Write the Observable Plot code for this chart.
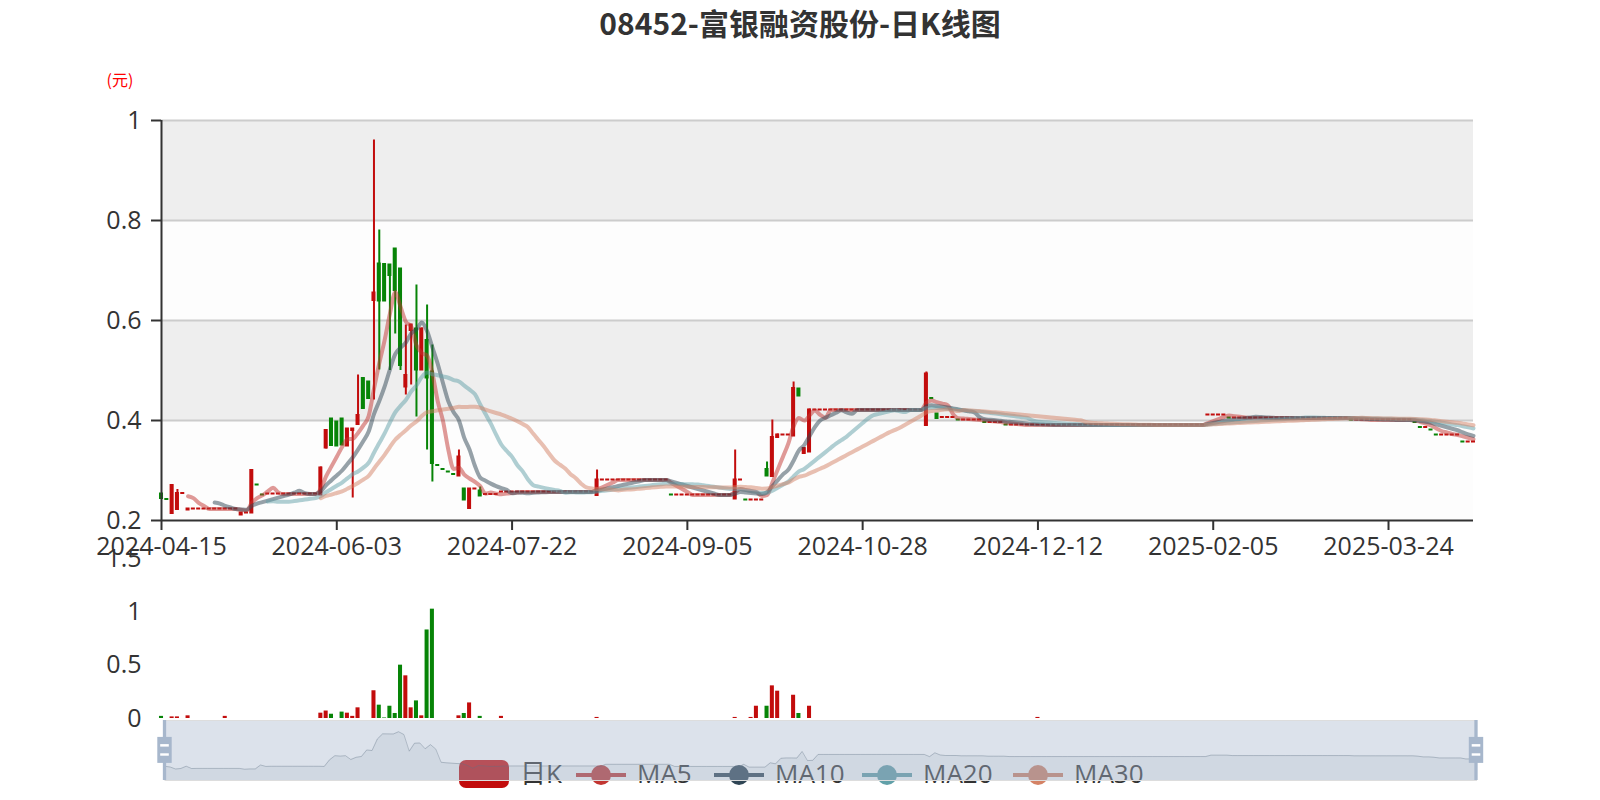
<!DOCTYPE html>
<html><head><meta charset="utf-8">
<script src="https://cdn.jsdelivr.net/npm/d3@7"></script>
<script src="https://cdn.jsdelivr.net/npm/@observablehq/plot@0.6"></script>
<style>
body{margin:0;background:#fff;}
#root{position:relative;width:1600px;height:800px;overflow:hidden;font-family:"Open Sans","Noto Sans CJK SC",sans-serif;}
#root > svg{position:absolute;left:0;top:0;}
#title{position:absolute;left:0;top:0;width:1600px;text-align:center;font-weight:bold;font-size:30px;font-family:"Noto Sans CJK SC",sans-serif;color:#333;line-height:45px;}
#unit{position:absolute;left:90px;top:68px;width:60px;text-align:center;font-size:16px;line-height:22px;color:#f00;font-family:"Noto Sans CJK SC",sans-serif;}
.lgIcon{position:absolute;top:760px;width:50px;height:28px;}
.lgText{position:absolute;top:759px;font-size:26px;line-height:28px;color:#333;font-family:"Open Sans","Noto Sans CJK SC",sans-serif;white-space:nowrap;}
</style></head>
<body><div id="root"><div id="title">08452-富银融资股份-日K线图</div><div id="unit">(元)</div></div>
<script>
// ---- data ----
const xTickLabels = ["2024-04-15","2024-06-03","2024-07-22","2024-09-05","2024-10-28","2024-12-12","2025-02-05","2025-03-24"];
const xTickEvery = 33;
const yTicks = [0.2, 0.4, 0.6, 0.8, 1];
const volTicks = [0, 0.5, 1, 1.5];
const seriesNames = ["日K", "MA5", "MA10", "MA20", "MA30"];
const maDays = [5, 10, 20, 30];

const open = [
.253,.242,.214,.222,.254,.221,.223,.223,.223,.223,
.223,.223,.223,.223,.223,.211,.215,.215,.271,.251,
.253,.253,.253,.253,.253,.253,.253,.253,.253,.253,
.251,.345,.403,.397,.403,.349,.38,.392,.484,.477,
.64,.713,.712,.711,.743,.703,.467,.58,.583,.501,
.56,.497,.31,.302,.297,.292,.289,.263,.224,.263,
.259,.252,.252,.252,.257,.257,.257,.257,.257,.257,
.257,.257,.257,.257,.257,.257,.257,.257,.257,.257,
.257,.257,.25,.281,.281,.281,.281,.281,.281,.281,
.281,.281,.281,.281,.281,.281,.251,.251,.251,.251,
.251,.251,.251,.251,.251,.251,.251,.251,.243,.281,
.241,.241,.241,.241,.302,.288,.366,.371,.371,.369,
.463,.334,.337,.421,.421,.421,.421,.421,.421,.421,
.421,.421,.421,.421,.421,.421,.421,.421,.421,.421,
.421,.421,.421,.421,.39,.444,.413,.406,.406,.406,
.401,.401,.401,.401,.401,.396,.396,.396,.396,.391,
.391,.391,.391,.391,.391,.391,.391,.391,.391,.391,
.391,.391,.391,.391,.391,.391,.391,.391,.391,.391,
.391,.391,.391,.391,.391,.391,.391,.391,.391,.391,
.391,.391,.391,.391,.391,.391,.391,.411,.411,.411,
.411,.405,.405,.405,.405,.405,.405,.405,.405,.405,
.405,.405,.405,.405,.405,.405,.405,.405,.405,.405,
.405,.405,.405,.405,.401,.401,.401,.401,.401,.401,
.401,.401,.401,.401,.401,.401,.396,.386,.386,.381,
.371,.371,.371,.371,.371,.357,.357,.357];
const close = [
.244,.242,.27,.254,.254,.223,.223,.223,.223,.223,
.223,.223,.223,.223,.223,.215,.215,.3,.271,.251,
.253,.253,.253,.253,.253,.253,.253,.253,.253,.253,
.305,.38,.35,.349,.351,.383,.383,.41,.424,.444,
.655,.639,.639,.69,.66,.51,.49,.591,.501,.583,
.485,.314,.31,.302,.297,.292,.327,.241,.263,.263,
.249,.252,.252,.252,.257,.257,.257,.257,.257,.257,
.257,.257,.257,.257,.257,.257,.257,.257,.257,.257,
.257,.257,.281,.281,.281,.281,.281,.281,.281,.281,
.281,.281,.281,.281,.281,.281,.251,.251,.251,.251,
.251,.251,.251,.251,.251,.251,.251,.251,.281,.281,
.241,.241,.241,.241,.289,.366,.371,.371,.371,.464,
.449,.344,.421,.421,.421,.421,.421,.421,.421,.421,
.421,.421,.421,.421,.421,.421,.421,.421,.421,.421,
.421,.421,.421,.421,.493,.444,.404,.406,.406,.406,
.401,.401,.401,.401,.401,.396,.396,.396,.396,.391,
.391,.391,.391,.391,.391,.391,.391,.391,.391,.391,
.391,.391,.391,.391,.391,.391,.391,.391,.391,.391,
.391,.391,.391,.391,.391,.391,.391,.391,.391,.391,
.391,.391,.391,.391,.391,.391,.391,.411,.411,.411,
.411,.405,.405,.405,.405,.405,.405,.405,.405,.405,
.405,.405,.405,.405,.405,.405,.405,.405,.405,.405,
.405,.405,.405,.405,.401,.401,.401,.401,.401,.401,
.401,.401,.401,.401,.401,.401,.396,.386,.386,.381,
.371,.371,.371,.371,.371,.357,.357,.357];
const low = [
.244,.242,.212,.221,.254,.221,.223,.223,.223,.223,
.223,.223,.223,.223,.223,.211,.215,.215,.271,.251,
.253,.253,.253,.253,.253,.253,.253,.253,.253,.253,
.25,.343,.35,.349,.351,.349,.245,.39,.424,.444,
.441,.501,.638,.5,.573,.5,.451,.471,.407,.5,
.341,.277,.31,.302,.297,.292,.289,.241,.222,.263,
.249,.252,.252,.252,.257,.257,.257,.257,.257,.257,
.257,.257,.257,.257,.257,.257,.257,.257,.257,.257,
.257,.257,.249,.281,.281,.281,.281,.281,.281,.281,
.281,.281,.281,.281,.281,.281,.251,.251,.251,.251,
.251,.251,.251,.251,.251,.251,.251,.251,.243,.281,
.241,.241,.241,.241,.289,.286,.366,.371,.371,.369,
.449,.334,.337,.421,.421,.421,.421,.421,.421,.421,
.421,.421,.421,.421,.421,.421,.421,.421,.421,.421,
.421,.421,.421,.421,.389,.444,.404,.406,.406,.406,
.401,.401,.401,.401,.401,.396,.396,.396,.396,.391,
.391,.391,.391,.391,.391,.391,.391,.391,.391,.391,
.391,.391,.391,.391,.391,.391,.391,.391,.391,.391,
.391,.391,.391,.391,.391,.391,.391,.391,.391,.391,
.391,.391,.391,.391,.391,.391,.391,.411,.411,.411,
.411,.405,.405,.405,.405,.405,.405,.405,.405,.405,
.405,.405,.405,.405,.405,.405,.405,.405,.405,.405,
.405,.405,.405,.405,.401,.401,.401,.401,.401,.401,
.401,.401,.401,.401,.401,.401,.396,.386,.386,.381,
.371,.371,.371,.371,.371,.357,.357,.357];
const high = [
.253,.242,.271,.262,.254,.223,.223,.223,.223,.223,
.223,.223,.223,.223,.223,.215,.215,.301,.271,.251,
.253,.253,.253,.253,.253,.253,.253,.253,.253,.253,
.307,.382,.403,.397,.403,.383,.383,.491,.484,.477,
.961,.781,.713,.712,.743,.703,.591,.591,.671,.585,
.631,.551,.31,.302,.297,.292,.341,.263,.263,.263,
.267,.252,.252,.252,.257,.257,.257,.257,.257,.257,
.257,.257,.257,.257,.257,.257,.257,.257,.257,.257,
.257,.257,.301,.281,.281,.281,.281,.281,.281,.281,
.281,.281,.281,.281,.281,.281,.251,.251,.251,.251,
.251,.251,.251,.251,.251,.251,.251,.251,.341,.281,
.241,.241,.241,.241,.317,.401,.373,.371,.371,.477,
.463,.344,.423,.421,.421,.421,.421,.421,.421,.421,
.421,.421,.421,.421,.421,.421,.421,.421,.421,.421,
.421,.421,.421,.421,.497,.444,.413,.406,.406,.406,
.401,.401,.401,.401,.401,.396,.396,.396,.396,.391,
.391,.391,.391,.391,.391,.391,.391,.391,.391,.391,
.391,.391,.391,.391,.391,.391,.391,.391,.391,.391,
.391,.391,.391,.391,.391,.391,.391,.391,.391,.391,
.391,.391,.391,.391,.391,.391,.391,.411,.411,.411,
.411,.405,.405,.405,.405,.405,.405,.405,.405,.405,
.405,.405,.405,.405,.405,.405,.405,.405,.405,.405,
.405,.405,.405,.405,.401,.401,.401,.401,.401,.401,
.401,.401,.401,.401,.401,.401,.396,.386,.386,.381,
.371,.371,.371,.371,.371,.357,.357,.357];
const volume = [
.02,0,.015,.015,0,.025,0,0,0,0,
0,0,.02,0,0,0,0,0,0,0,
0,0,0,0,0,0,0,0,0,0,
.05,.07,.04,0,.06,.05,.02,.1,0,0,
.26,.125,.005,.115,.047,.5,.4,.1,.165,.025,
.83,1.025,0,0,0,0,.025,.047,.146,0,
.02,0,0,0,.02,0,0,0,0,0,
0,0,0,0,0,0,0,0,0,0,
0,0,.01,0,0,0,0,0,0,0,
0,0,0,0,0,0,0,0,0,0,
0,0,0,0,0,0,0,0,.01,0,
0,.01,.115,0,.115,.306,.256,0,0,.218,
.047,0,.115,0,0,0,0,0,0,0,
0,0,0,0,0,0,0,0,0,0,
0,0,0,0,0,0,0,0,0,0,
0,0,0,0,0,0,0,0,0,0,
0,0,0,0,0,.01,0,0,0,0,
0,0,0,0,0,0,0,0,0,0,
0,0,0,0,0,0,0,0,0,0,
0,0,0,0,0,0,0,0,0,0,
0,0,0,0,0,0,0,0,0,0,
0,0,0,0,0,0,0,0,0,0,
0,0,0,0,0,0,0,0,0,0,
0,0,0,0,0,0,0,0,0,0,
0,0,0,0,0,0,0,0];

// ---- styling ----
const FONT = '"Open Sans","Noto Sans CJK SC",sans-serif';
const upColor = "#c20c0c", downColor = "#078407";
const maColors = ["#c23531", "#2f4554", "#61a0a8", "#d48265"];
const W = 1600, ML = 161, MR = 127;
const N = close.length;
const upx = (N - 1) / (W - ML - MR); // data units per pixel along x

const rows = close.map((c, i) => {
  const o = open[i];
  const up = o < c ? true : o > c ? false : (i === 0 || close[i - 1] <= c);
  return {i, o, c, l: low[i], h: high[i], v: volume[i], col: up ? upColor : downColor};
});
const maSeries = maDays.map(n => rows.map((r, i) => ({
  i, v: i < n ? null : d3.mean(close.slice(i - n + 1, i + 1))
})));
const xTicks = xTickLabels.map((_, k) => k * xTickEvery);
const bandFill = ["#fdfdfd", "#eeeeee"];
const bands = d3.pairs(yTicks).map(([a, b], k) => ({a, b, f: bandFill[k % 2]}));
const root = document.getElementById("root");
const common = {width: W, marginLeft: ML, marginRight: MR, color: {type: "identity"},
  style: {background: "transparent", fontFamily: FONT, overflow: "visible"}};

// ---- main candlestick panel ----
const main = Plot.plot({
  ...common, height: 570, marginTop: 120, marginBottom: 50,
  x: {domain: [0, N - 1], axis: null},
  y: {domain: [0.2, 1], axis: null},
  marks: [
    Plot.rect(bands, {x1: () => 0, x2: () => N - 1, y1: "a", y2: "b", fill: "f"}),
    Plot.ruleY(yTicks.slice(1), {y: d => d, stroke: "#cccccc", strokeWidth: 2}),
    Plot.ruleX(rows, {x: "i", y1: "l", y2: "h", stroke: "col", strokeWidth: 2}),
    Plot.rect(rows, {x1: d => d.i - 0.19, x2: d => d.i + 0.19,
      y1: d => Math.min(d.o, d.c), y2: d => Math.max(d.o, d.c), fill: "col", inset: -1}),
    ...maSeries.map((s, k) => Plot.line(s, {x: "i", y: "v", stroke: maColors[k],
      strokeOpacity: 0.5, strokeWidth: 4, curve: "monotone-x"})),
    Plot.ruleX([0], {y1: () => 0.2, y2: () => 1, stroke: "#333", strokeWidth: 2}),
    Plot.ruleY(yTicks, {y: d => d, x1: () => -10 * upx, x2: () => 0, stroke: "#333", strokeWidth: 2}),
    Plot.text(yTicks, {y: d => d, x: () => -20 * upx, text: d => String(d), textAnchor: "end",
      fontSize: 25, fill: "#333"}),
    Plot.ruleY([0.2], {y: d => d, stroke: "#333", strokeWidth: 2}),
    Plot.ruleX(xTicks, {x: d => d, y1: () => 0.2, y2: () => 0.18, stroke: "#333", strokeWidth: 2}),
    Plot.text(xTicks, {x: d => d, y: () => 0.2, dy: 26, text: (d, k) => xTickLabels[k],
      fontSize: 25, fill: "#333"})
  ]
});
root.appendChild(main);

// ---- volume panel ----
const vol = Plot.plot({
  ...common, height: 720, marginTop: 558, marginBottom: 2,
  x: {domain: [0, N - 1], axis: null},
  y: {domain: [0, 1.5], axis: null},
  marks: [
    Plot.rectY(rows.filter(r => r.v > 0), {x1: d => d.i - 0.38, x2: d => d.i + 0.38, y: "v", fill: "col"}),
    Plot.text(volTicks, {y: d => d, x: () => -20 * upx, text: d => String(d), textAnchor: "end",
      fontSize: 25, fill: "#333"})
  ]
});
root.appendChild(vol);

// ---- legend (drawn beneath the zoom slider) ----
const legendIconX = [459, 576, 714, 862, 1013];
seriesNames.forEach((name, k) => {
  const icon = document.createElement("div");
  icon.className = "lgIcon";
  icon.style.left = legendIconX[k] + "px";
  icon.innerHTML = k === 0
    ? `<svg width="50" height="28"><rect x="0" y="0" width="50" height="28" rx="7" fill="${upColor}"/></svg>`
    : `<svg width="50" height="28"><line x1="0" x2="50" y1="15" y2="15" stroke="${maColors[k-1]}" stroke-width="4"/><circle cx="25" cy="15" r="10" fill="${maColors[k-1]}"/></svg>`;
  root.appendChild(icon);
  const t = document.createElement("div");
  t.className = "lgText";
  t.style.left = (legendIconX[k] + 61) + "px";
  t.textContent = name;
  root.appendChild(t);
});

// ---- data-zoom slider ----
const oExt = d3.extent(open);
const pad = (oExt[1] - oExt[0]) * 0.3;
const sLo = oExt[0] - pad, sHi = oExt[1] + pad;
const SH = 60;
const shadow = rows.map(r => ({i: r.i, y: SH * (r.o - sLo) / (sHi - sLo)}));
const handles = [0, N - 1];
const slider = Plot.plot({
  ...common, marginLeft: 164.5, marginRight: 124, height: 800, marginTop: 720, marginBottom: 20,
  x: {domain: [0, N - 1], axis: null},
  y: {domain: [0, SH], axis: null},
  marks: [
    Plot.areaY(shadow, {x: "i", y1: () => 0, y2: "y", fill: "#2f4554", fillOpacity: 0.09}),
    Plot.lineY(shadow, {x: "i", y: "y", stroke: "#2f4554", strokeOpacity: 0.35, strokeWidth: 1}),
    Plot.rect([0], {x1: () => 0, x2: () => N - 1, y1: () => 0, y2: () => SH, fill: "rgb(167,183,204)", fillOpacity: 0.4}),
    Plot.frame({stroke: "#ddd"}),
    Plot.rect(handles, {x1: d => d, x2: d => d, y1: () => 0, y2: () => SH, fill: "#a7b7cc", insetLeft: -1.65, insetRight: -1.65}),
    Plot.rect(handles, {x1: d => d, x2: d => d, y1: () => 17.1, y2: () => 43.1, fill: "#a7b7cc", insetLeft: -7.2, insetRight: -7.2}),
    Plot.rect(handles, {x1: d => d, x2: d => d, y1: () => 24.3, y2: () => 26.7, fill: "#fff", insetLeft: -4.3, insetRight: -4.3}),
    Plot.rect(handles, {x1: d => d, x2: d => d, y1: () => 33.4, y2: () => 35.9, fill: "#fff", insetLeft: -4.3, insetRight: -4.3})
  ]
});
root.appendChild(slider);
</script>
</body></html>
